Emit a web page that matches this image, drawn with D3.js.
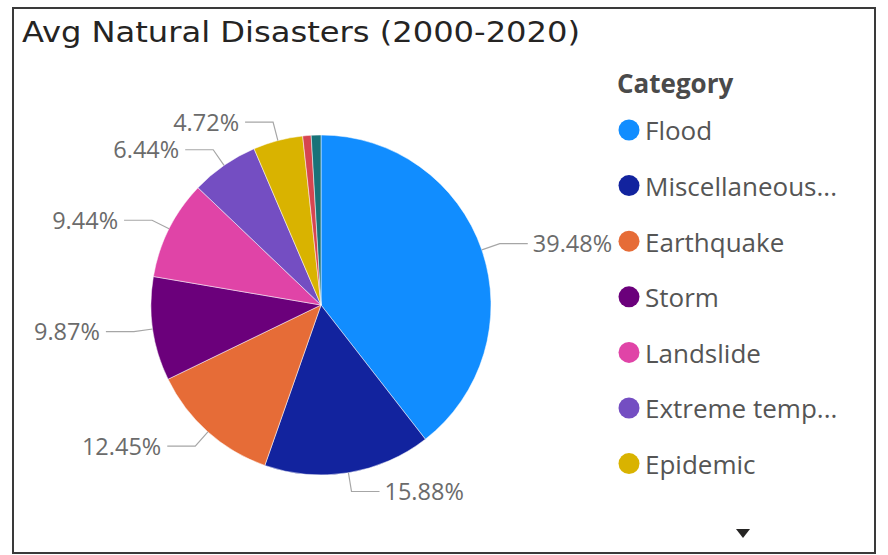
<!DOCTYPE html>
<html>
<head>
<meta charset="utf-8">
<script src="https://cdn.jsdelivr.net/npm/d3@7"></script>
<style>
  body { margin: 0; background: #fff; }
  svg { display: block; }
</style>
</head>
<body>
<svg></svg>
<script>
// chart data
const categories = ['Flood', 'Miscellaneous accident', 'Earthquake', 'Storm', 'Landslide',
  'Extreme temperature', 'Epidemic', 'Drought', 'Wildfire']
const shares = [39.48, 15.88, 12.45, 9.87, 9.44, 6.44, 4.72, 0.80, 0.92]
const legendLabels = ['Flood', 'Miscellaneous...', 'Earthquake', 'Storm', 'Landslide',
  'Extreme temp...', 'Epidemic']
const colors = ['#118DFF', '#12239E', '#E66C37', '#6B007B', '#E044A7', '#744EC2',
  '#D9B300', '#D64550', '#197278']

const width = 888
const height = 555
const cx = 321
const cy = 305
const radius = 170

const svg = d3.select('svg')
  .attr('width', width)
  .attr('height', height)

// card frame
svg.append('rect')
  .attr('x', 13).attr('y', 8)
  .attr('width', 862).attr('height', 545)
  .attr('fill', '#fff')
  .attr('stroke', '#3a3a3a')
  .attr('stroke-width', 2)

// title
svg.append('text')
  .attr('x', 22).attr('y', 42)
  .attr('font-family', "'DejaVu Sans Condensed', sans-serif")
  .attr('font-size', 29)
  .attr('textLength', 558)
  .attr('lengthAdjust', 'spacingAndGlyphs')
  .attr('fill', '#252423')
  .text('Avg Natural Disasters (2000-2020)')

const color = d3.scaleOrdinal().domain(categories).range(colors)

const pie = d3.pie().sort(null).value(d => d.value)
const data = categories.map((c, i) => ({ name: c, value: shares[i] }))
const arcs = pie(data)

const arc = d3.arc().innerRadius(0).outerRadius(radius)

const g = svg.append('g').attr('transform', `translate(${cx},${cy})`)

g.selectAll('path.slice')
  .data(arcs)
  .enter()
  .append('path')
  .attr('class', 'slice')
  .attr('d', arc)
  .attr('fill', d => color(d.data.name))
  .attr('stroke', '#fff')
  .attr('stroke-width', 0.5)

// labels with leader lines for the larger slices
const labelled = arcs.filter(d => d.data.value > 2)
const total = d3.sum(shares)
const point = (a, r) => [Math.sin(a) * r, -Math.cos(a) * r]

labelled.forEach(d => {
  const mid = (d.startAngle + d.endAngle) / 2
  const p1 = point(mid, radius)
  const p2 = point(mid, radius + 19)
  const right = Math.sin(mid) > 0
  const p3 = [p2[0] + (right ? 28 : -28), p2[1]]
  g.append('polyline')
    .attr('points', [p1, p2, p3].map(p => p.join(',')).join(' '))
    .attr('fill', 'none')
    .attr('stroke', '#a6a6a6')
    .attr('stroke-width', 1.2)
  g.append('text')
    .attr('x', p3[0] + (right ? 5 : -6))
    .attr('y', p3[1])
    .attr('dy', '0.36em')
    .attr('text-anchor', right ? 'start' : 'end')
    .attr('font-family', "'Open Sans', sans-serif")
    .attr('font-size', 23.5)
    .attr('fill', '#6b6b6b')
    .text(d3.format('.2f')(d.data.value / total * 100) + '%')
})

// legend
const legend = svg.append('g').attr('transform', 'translate(617,0)')
legend.append('text')
  .attr('x', 0).attr('y', 93)
  .attr('font-family', "'Open Sans', sans-serif")
  .attr('font-weight', 'bold')
  .attr('font-size', 26)
  .attr('fill', '#4a4a4a')
  .text('Category')

const items = legend.selectAll('g.item')
  .data(legendLabels)
  .enter()
  .append('g')
  .attr('class', 'item')
  .attr('transform', (d, i) => `translate(0,${130 + i * 55.6})`)

items.append('circle')
  .attr('cx', 12).attr('cy', 0).attr('r', 10.5)
  .attr('fill', (d, i) => colors[i])

items.append('text')
  .attr('x', 28).attr('y', 0)
  .attr('dy', '0.4em')
  .attr('font-family', "'Open Sans', sans-serif")
  .attr('font-size', 26)
  .attr('fill', '#555')
  .text(d => d)

// scroll arrow
svg.append('path')
  .attr('d', d3.line()([[736, 529], [750, 529], [743, 538]]))
  .attr('fill', '#252423')
</script>
</body>
</html>
